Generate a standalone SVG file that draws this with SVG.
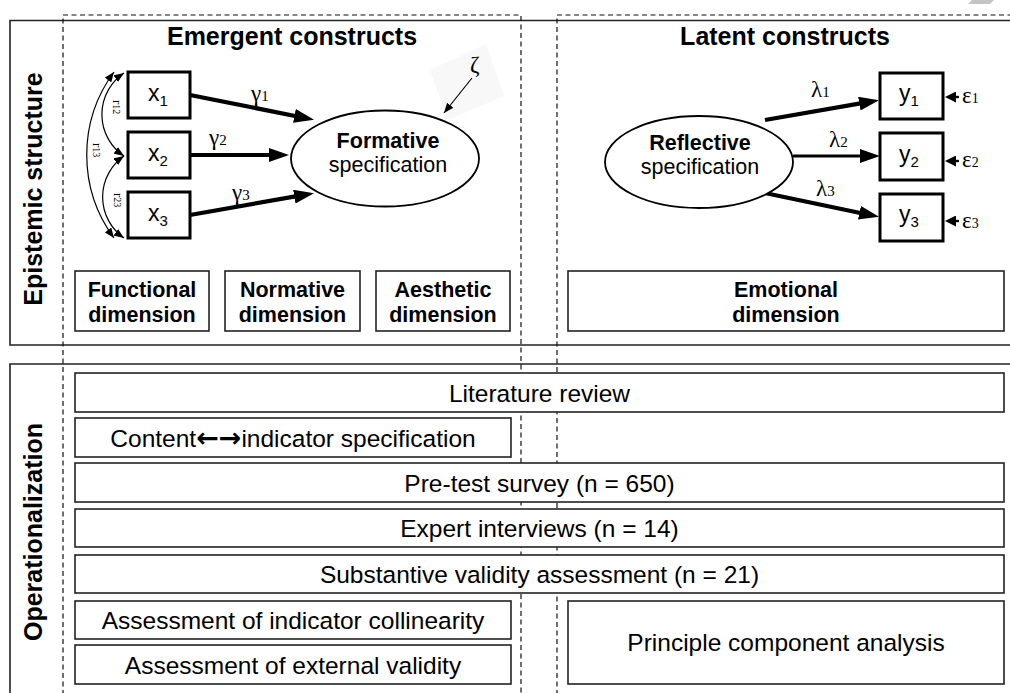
<svg xmlns="http://www.w3.org/2000/svg" width="1010" height="693" viewBox="0 0 1010 693">
<style>
  .frame{fill:none;stroke:#222;stroke-width:1.6}
  .dash{fill:none;stroke:#111;stroke-width:1.2;stroke-dasharray:5 3.5}
  .box{fill:#fff;stroke:#222;stroke-width:1.6}
  .var{fill:#fff;stroke:#000;stroke-width:3}
  .ell{fill:#fff;stroke:#000;stroke-width:1.8}
  .thick{fill:none;stroke:#000;stroke-width:4.2}
  .thin{fill:none;stroke:#000;stroke-width:1.2}
  .eps{fill:none;stroke:#000;stroke-width:2.4}
  .h{font-family:"Liberation Sans",Arial,sans-serif;font-weight:bold;font-size:25px;fill:#000;text-anchor:middle}
  .dim{font-family:"Liberation Sans",Arial,sans-serif;font-weight:bold;font-size:21.5px;fill:#000;text-anchor:middle}
  .t{font-family:"Liberation Sans",Arial,sans-serif;font-size:24.5px;fill:#000;text-anchor:middle}
  .e{font-family:"Liberation Sans",Arial,sans-serif;font-size:21.5px;fill:#000;text-anchor:middle}
  .v{font-family:"Liberation Sans",Arial,sans-serif;font-size:23px;fill:#000}
  .g{font-family:"Liberation Serif","Times New Roman",serif;font-size:23px;fill:#000}
  .r{font-family:"Liberation Serif","Times New Roman",serif;font-size:13px;fill:#000}
  .ar{font-family:"DejaVu Sans",sans-serif;font-weight:bold;font-size:27px}
</style>
<defs>
  <marker id="big" markerUnits="userSpaceOnUse" markerWidth="20" markerHeight="14" refX="7" refY="7" orient="auto">
    <path d="M0,0 L20,7 L0,14 z" fill="#000"/>
  </marker>
  <marker id="eh" markerUnits="userSpaceOnUse" markerWidth="11" markerHeight="11" refX="4" refY="5.5" orient="auto">
    <path d="M0,0 L11,5.5 L0,11 z" fill="#000"/>
  </marker>
  <marker id="sm" markerUnits="userSpaceOnUse" markerWidth="10" markerHeight="8" refX="10" refY="4" orient="auto-start-reverse">
    <path d="M0,0 L10,4 L0,8 z" fill="#000"/>
  </marker>
</defs>

<!-- scan artifacts -->
<polygon points="968,4 990,4 994,0 972,0" fill="#c4c4c4"/>
<polygon points="430,70 486,44 504,96 448,120" fill="#f8f8f8"/>

<!-- frames -->
<g id="frames">
  <path class="frame" d="M1012,20.5 H10 V345 H1012"/>
  <path class="frame" d="M1012,364 H10 V695"/>
</g>

<!-- dashed regions -->
<g id="regions">
  <path class="dash" d="M63,695 V15 H521 V695"/>
  <path class="dash" d="M557,695 V15 H1012"/>
</g>

<!-- side labels -->
<text class="h" transform="translate(42,189) rotate(-90)">Epistemic structure</text>
<text class="h" transform="translate(42,532) rotate(-90)">Operationalization</text>

<!-- headings -->
<text class="h" x="292" y="45">Emergent constructs</text>
<text class="h" x="785" y="45">Latent constructs</text>

<!-- connectors -->
<g id="connectors">
  <line class="thick" x1="190" y1="95" x2="301.3" y2="117.2" marker-end="url(#big)"/>
  <line class="thick" x1="190" y1="155" x2="276" y2="155" marker-end="url(#big)"/>
  <line class="thick" x1="190" y1="215" x2="301.2" y2="195.4" marker-end="url(#big)"/>
  <line class="thick" x1="765" y1="120" x2="866.2" y2="102.4" marker-end="url(#big)"/>
  <line class="thick" x1="793" y1="156" x2="867" y2="156" marker-end="url(#big)" style="stroke-width:3.2"/>
  <line class="thick" x1="765" y1="193" x2="866.3" y2="214.2" marker-end="url(#big)"/>
  <line class="eps" x1="959" y1="97" x2="952" y2="97" marker-end="url(#eh)"/>
  <line class="eps" x1="959" y1="161" x2="952" y2="161" marker-end="url(#eh)"/>
  <line class="eps" x1="959" y1="221" x2="952" y2="221" marker-end="url(#eh)"/>
  <line class="thin" x1="472" y1="78" x2="444" y2="113" marker-end="url(#sm)"/>
  <path class="thin" d="M124,73 A50,50 0 0,0 124,156" marker-start="url(#sm)" marker-end="url(#sm)"/>
  <path class="thin" d="M124,156 A50,50 0 0,0 124,238" marker-start="url(#sm)" marker-end="url(#sm)"/>
  <path class="thin" d="M114,72 A140,140 0 0,0 114,238" marker-start="url(#sm)" marker-end="url(#sm)"/>
</g>

<!-- connector labels -->
<text class="g" x="251" y="101">γ<tspan font-size="15">1</tspan></text>
<text class="g" x="209" y="145">γ<tspan font-size="15">2</tspan></text>
<text class="g" x="232" y="200">γ<tspan font-size="15">3</tspan></text>
<text class="g" x="811" y="97">λ<tspan font-size="15">1</tspan></text>
<text class="g" x="829" y="147">λ<tspan font-size="15">2</tspan></text>
<text class="g" x="816" y="196">λ<tspan font-size="15">3</tspan></text>
<text class="g" x="962" y="103" font-size="21">ε<tspan font-size="14">1</tspan></text>
<text class="g" x="962" y="167" font-size="21">ε<tspan font-size="14">2</tspan></text>
<text class="g" x="962" y="228" font-size="21">ε<tspan font-size="14">3</tspan></text>
<text class="g" x="470" y="72" font-size="17">ζ</text>
<text class="r" transform="translate(113,100) rotate(90)">r<tspan font-size="10">12</tspan></text>
<text class="r" transform="translate(93,143) rotate(90)">r<tspan font-size="10">13</tspan></text>
<text class="r" transform="translate(114,193) rotate(90)">r<tspan font-size="10">23</tspan></text>

<!-- indicator nodes -->
<g id="x1"><rect class="var" x="128" y="72" width="62" height="46"/><text class="v" x="148" y="101">x<tspan font-size="15" dy="5">1</tspan></text></g>
<g id="x2"><rect class="var" x="128" y="132" width="62" height="46"/><text class="v" x="148" y="161">x<tspan font-size="15" dy="5">2</tspan></text></g>
<g id="x3"><rect class="var" x="128" y="192" width="62" height="46"/><text class="v" x="148" y="221">x<tspan font-size="15" dy="5">3</tspan></text></g>
<g id="y1"><rect class="var" x="880" y="73" width="63" height="46"/><text class="v" x="899" y="101">y<tspan font-size="15" dy="5">1</tspan></text></g>
<g id="y2"><rect class="var" x="880" y="133" width="63" height="47"/><text class="v" x="899" y="162">y<tspan font-size="15" dy="5">2</tspan></text></g>
<g id="y3"><rect class="var" x="880" y="194" width="63" height="47"/><text class="v" x="899" y="222">y<tspan font-size="15" dy="5">3</tspan></text></g>

<!-- construct nodes -->
<g id="formative">
  <ellipse class="ell" cx="385" cy="158.5" rx="94" ry="48"/>
  <text class="e" x="388" y="148" font-weight="bold">Formative</text>
  <text class="e" x="388" y="172">specification</text>
</g>
<g id="reflective">
  <ellipse class="ell" cx="699" cy="162" rx="94" ry="46"/>
  <text class="e" x="700" y="150" font-weight="bold">Reflective</text>
  <text class="e" x="700" y="174">specification</text>
</g>

<!-- dimensions -->
<g id="functional"><rect class="box" x="75" y="271" width="134" height="60"/><text class="dim" x="142" y="297">Functional</text><text class="dim" x="142" y="322">dimension</text></g>
<g id="normative"><rect class="box" x="225" y="271" width="135" height="60"/><text class="dim" x="292.5" y="297">Normative</text><text class="dim" x="292.5" y="322">dimension</text></g>
<g id="aesthetic"><rect class="box" x="376" y="271" width="134" height="60"/><text class="dim" x="443" y="297">Aesthetic</text><text class="dim" x="443" y="322">dimension</text></g>
<g id="emotional"><rect class="box" x="568" y="271" width="436" height="60"/><text class="dim" x="786" y="297">Emotional</text><text class="dim" x="786" y="322">dimension</text></g>

<!-- operationalization steps -->
<g id="lit"><rect class="box" x="75" y="373" width="929" height="39"/><text class="t" x="539.5" y="402">Literature review</text></g>
<g id="content"><rect class="box" x="75" y="418" width="436" height="39"/><text class="t" x="293" y="447">Content<tspan class="ar">←→</tspan>indicator specification</text></g>
<g id="pretest"><rect class="box" x="75" y="463" width="929" height="39"/><text class="t" x="539.5" y="492">Pre-test survey (n = 650)</text></g>
<g id="expert"><rect class="box" x="75" y="509" width="929" height="38"/><text class="t" x="539.5" y="537">Expert interviews (n = 14)</text></g>
<g id="subst"><rect class="box" x="75" y="555" width="929" height="38"/><text class="t" x="539.5" y="583">Substantive validity assessment (n = 21)</text></g>
<g id="coll"><rect class="box" x="75" y="601" width="436" height="38"/><text class="t" x="293" y="629">Assessment of indicator collinearity</text></g>
<g id="ext"><rect class="box" x="75" y="645" width="436" height="39"/><text class="t" x="293" y="674">Assessment of external validity</text></g>
<g id="pca"><rect class="box" x="568" y="601" width="436" height="83"/><text class="t" x="786" y="651">Principle component analysis</text></g>
</svg>
